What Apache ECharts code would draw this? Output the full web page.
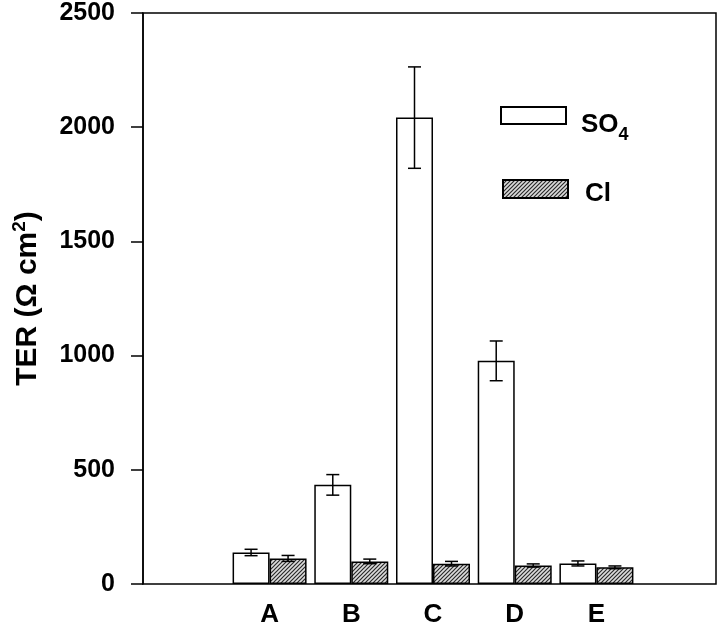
<!DOCTYPE html>
<html>
<head>
<meta charset="utf-8">
<script src="https://cdn.jsdelivr.net/npm/echarts@6/dist/echarts.min.js"></script>
<style>html,body{margin:0;padding:0;background:#fff;}#c{width:720px;height:624px;}</style>
</head>
<body>
<div id="c"></div>
<script>
var categories = ['', 'A', 'B', 'C', 'D', 'E', ''];
var so4 = [null, 138, 434, 2042, 977, 90, null];
var so4Err = [null, 14, 45, 222, 87, 11, null];
var cl = [null, 112, 99, 89, 81, 73, null];
var clErr = [null, 13, 10, 10, 7, 6, null];
var yTicks = [0, 500, 1000, 1500, 2000, 2500];

var FONT = '"Liberation Sans", Arial, sans-serif';
var BAR_W = 37;

// hatch pattern
var pc = document.createElement('canvas');
pc.width = 4; pc.height = 4;
var g = pc.getContext('2d');
g.fillStyle = '#dcdcdc';
g.fillRect(0, 0, 4, 4);
g.strokeStyle = '#2a2a2a';
g.lineWidth = 1.2;
g.beginPath();
g.moveTo(-1, 5); g.lineTo(5, -1);
g.moveTo(-1, 1); g.lineTo(1, -1);
g.moveTo(3, 5); g.lineTo(5, 3);
g.stroke();
var hatch = { image: pc, repeat: 'repeat' };

function errSeries(vals, errs, dir) {
  return {
    type: 'custom',
    z: 5,
    data: vals.map(function (v, i) { return v == null ? [i, null, null] : [i, v - errs[i], v + errs[i]]; }),
    renderItem: function (params, api) {
      if (api.value(1) == null || isNaN(api.value(1))) return;
      var lo = api.coord([api.value(0), api.value(1)]);
      var hi = api.coord([api.value(0), api.value(2)]);
      var x = lo[0] + dir * BAR_W / 2;
      var hw = 6.5;
      var st = { stroke: '#000', lineWidth: 1.5 };
      return {
        type: 'group',
        children: [
          { type: 'line', shape: { x1: x, y1: lo[1], x2: x, y2: hi[1] }, style: st },
          { type: 'line', shape: { x1: x - hw, y1: lo[1], x2: x + hw, y2: lo[1] }, style: st },
          { type: 'line', shape: { x1: x - hw, y1: hi[1], x2: x + hw, y2: hi[1] }, style: st }
        ]
      };
    }
  };
}

var chart = echarts.init(document.getElementById('c'), null, { renderer: 'canvas' });
chart.setOption({
  animation: false,
  backgroundColor: '#fff',
  grid: { left: 147, right: 1, top: 13, bottom: 40, containLabel: false, outerBoundsMode: 'none' },
  legend: [
    {
      data: ['SO4'], left: 500, top: 106, itemWidth: 65, itemHeight: 17, icon: 'rect', padding: 0,
      selectedMode: false,
      formatter: function () { return 'SO{sub|4}'; },
      textStyle: {
        fontFamily: FONT, fontWeight: 'bold', fontSize: 26, color: '#000', padding: [18, 0, 0, 10],
        rich: { sub: { fontFamily: FONT, fontWeight: 'bold', fontSize: 18, color: '#000', padding: [22, 0, 0, 0] } }
      }
    },
    {
      data: ['Cl'], left: 502, top: 179, itemWidth: 65, itemHeight: 18, icon: 'rect', padding: 0,
      selectedMode: false,
      formatter: function (n) { return '{c|' + n + '}'; },
      textStyle: {
        fontFamily: FONT, fontWeight: 'bold', fontSize: 26, color: '#000', padding: [0, 0, 0, 12],
        rich: { c: { fontFamily: FONT, fontWeight: 'bold', fontSize: 26, color: '#000', padding: [9, 0, 0, 0] } }
      }
    }
  ],
  xAxis: {
    type: 'category',
    data: categories,
    axisLine: { show: false },
    axisTick: { show: false },
    axisLabel: { fontFamily: FONT, fontWeight: 'bold', fontSize: 26, color: '#000', margin: 18, interval: 0 }
  },
  yAxis: {
    type: 'value',
    min: 0, max: 2500, interval: 500,
    offset: 4,
    name: 'TER (Ω cm{sup|2})',
    nameLocation: 'middle',
    nameGap: 98,
    nameRotate: 90,
    nameTextStyle: {
      fontFamily: FONT, fontWeight: 'bold', fontSize: 30, color: '#000',
      rich: { sup: { fontFamily: FONT, fontWeight: 'bold', fontSize: 19, color: '#000', padding: [0, 0, 16, 0] } }
    },
    axisLine: { show: true, lineStyle: { color: '#000', width: 1.5 } },
    axisTick: { show: true, length: 12, lineStyle: { color: '#000', width: 1.5 } },
    splitLine: { show: false },
    axisLabel: {
      fontFamily: FONT, fontWeight: 'bold', fontSize: 25, color: '#000', margin: 28,
      formatter: function (v) { return yTicks.indexOf(v) >= 0 ? String(v) : ''; }
    }
  },
  graphic: [
    { type: 'rect', z: 1, shape: { x: 143, y: 13, width: 573, height: 571 }, style: { fill: 'none', stroke: '#000', lineWidth: 1.5 } }
  ],
  series: [
    {
      name: 'SO4', type: 'bar', data: so4, barWidth: BAR_W, barGap: '0%', z: 3,
      itemStyle: { color: '#fff', borderColor: '#000', borderWidth: 1.5 }
    },
    {
      name: 'Cl', type: 'bar', data: cl, barWidth: BAR_W, barGap: '0%', z: 3,
      itemStyle: { color: hatch, borderColor: '#000', borderWidth: 1.5 }
    },
    errSeries(so4, so4Err, -1),
    errSeries(cl, clErr, 1)
  ]
});
</script>
</body>
</html>
